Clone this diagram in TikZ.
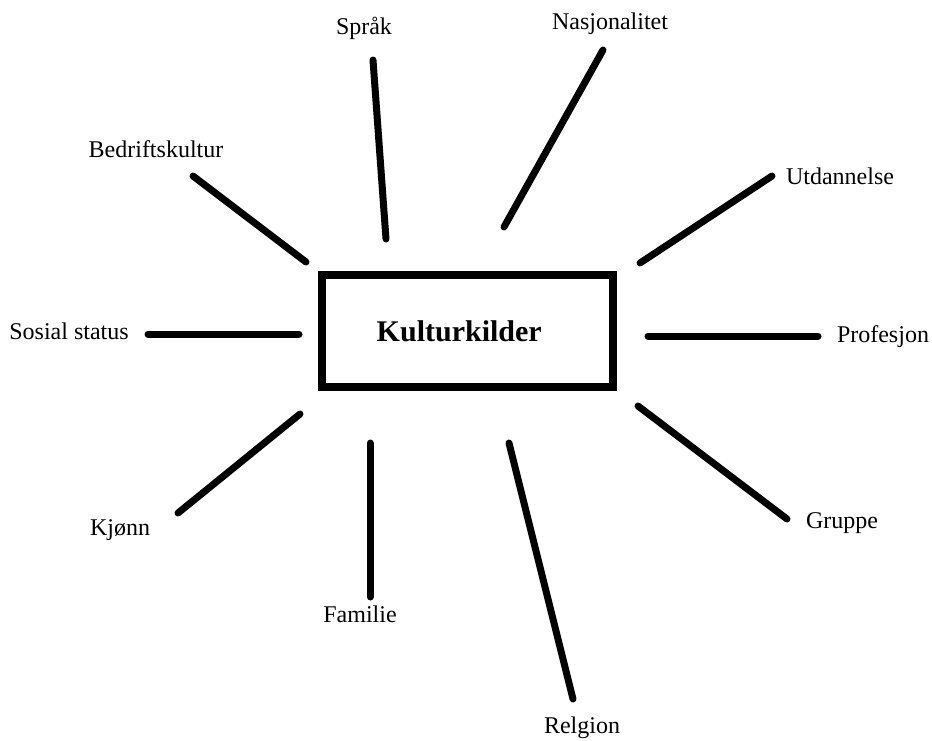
\documentclass[tikz,border=0pt]{standalone}
\usepackage{fontspec}
\setmainfont{Liberation Serif}
\begin{document}
\begin{tikzpicture}[x=1pt,y=-1pt,
  lbl/.style={inner sep=0pt,font=\fontsize{24}{27}\selectfont},
  spoke/.style={line width=7pt,line cap=round},
  centerbox/.style={draw,line width=8pt,minimum width=291.5pt,minimum height=112pt,inner sep=0pt,
    font=\fontsize{30}{33}\selectfont\bfseries}]
\useasboundingbox (0,0) rectangle (932,740);
\node[centerbox] (k) at (467.25,331) {\hspace*{-16pt}Kulturkilder};
\node[lbl] (sprak) at (364,28) {Språk};
\node[lbl] (nasj) at (610,24) {Nasjonalitet};
\node[lbl] (bedr) at (156,149) {Bedriftskultur};
\node[lbl] (utd) at (840,176) {Utdannelse};
\node[lbl] (sos) at (69,331) {Sosial status};
\node[lbl] (prof) at (883,337) {Profesjon};
\node[lbl] (kjonn) at (120,530) {Kjønn};
\node[lbl] (grp) at (842,523) {Gruppe};
\node[lbl] (fam) at (360,614) {Familie};
\node[lbl] (rel) at (582,728) {Relgion};
% spoke end points
\coordinate (s1) at (373,60);  \coordinate (s2) at (386,239);
\coordinate (n1) at (603,50);  \coordinate (n2) at (504,227);
\coordinate (b1) at (193,176); \coordinate (b2) at (306,262);
\coordinate (u1) at (772,176); \coordinate (u2) at (640,263);
\coordinate (o1) at (148,334); \coordinate (o2) at (299,334);
\coordinate (p1) at (648,336); \coordinate (p2) at (818,336);
\coordinate (j1) at (300,414); \coordinate (j2) at (178,513);
\coordinate (f1) at (370,443); \coordinate (f2) at (370,597);
\coordinate (g1) at (638,406); \coordinate (g2) at (787,519);
\coordinate (r1) at (509,443); \coordinate (r2) at (573,699);
\draw[spoke] (s1) -- (s2);
\draw[spoke] (n1) -- (n2);
\draw[spoke] (b1) -- (b2);
\draw[spoke] (u1) -- (u2);
\draw[spoke] (o1) -- (o2);
\draw[spoke] (p1) -- (p2);
\draw[spoke] (j1) -- (j2);
\draw[spoke] (f1) -- (f2);
\draw[spoke] (g1) -- (g2);
\draw[spoke] (r1) -- (r2);
\end{tikzpicture}
\end{document}
